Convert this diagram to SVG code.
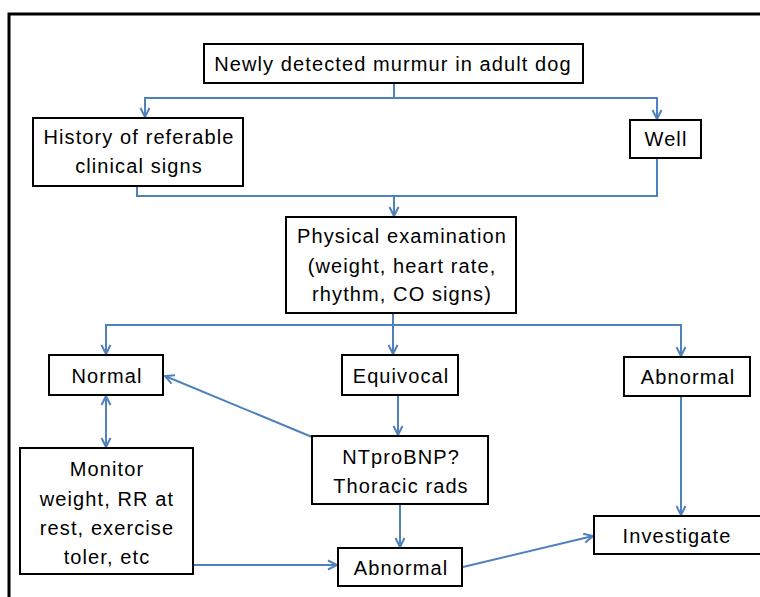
<svg xmlns="http://www.w3.org/2000/svg" width="760" height="597" viewBox="0 0 760 597">
  <style>
    .box { fill: #ffffff; stroke: #000000; stroke-width: 2; }
    .lbl { font-family: "Liberation Sans", Arial, sans-serif; font-size: 20px; letter-spacing: 1.1px; fill: #000000; text-anchor: middle; }
    .wire { fill: none; stroke: #4F81BD; stroke-width: 2; }
    .frame { stroke: #000000; stroke-width: 3; fill: none; }
  </style>
  <defs>
    <marker id="tip" viewBox="0 0 12 12" refX="11" refY="6" markerWidth="12" markerHeight="12" markerUnits="userSpaceOnUse" orient="auto-start-reverse">
      <path d="M2,1.5 L11,6 L2,10.5" fill="none" stroke="#4F81BD" stroke-width="2"/>
    </marker>
  </defs>
  <rect width="760" height="597" fill="#ffffff"/>
  <!-- frame: only top and left edges fall inside the canvas -->
  <path class="frame" d="M9,597 L9,14 L760,14"/>

  <g id="connectors">
    <!-- murmur to history / well -->
    <path class="wire" d="M394,83 L394,98"/>
    <path class="wire" d="M394,98 L145,98 L145,117" marker-end="url(#tip)"/>
    <path class="wire" d="M394,98 L657,98 L657,119" marker-end="url(#tip)"/>
    <!-- history / well merge into physical exam -->
    <path class="wire" d="M137,186 L137,196 L657,196 L657,158"/>
    <path class="wire" d="M394,196 L394,216" marker-end="url(#tip)"/>
    <!-- physical exam to the three outcomes -->
    <path class="wire" d="M393,313 L393,325"/>
    <path class="wire" d="M393,325 L106,325 L106,354" marker-end="url(#tip)"/>
    <path class="wire" d="M393,325 L393,354" marker-end="url(#tip)"/>
    <path class="wire" d="M393,325 L681,325 L681,356" marker-end="url(#tip)"/>
    <!-- equivocal to NTproBNP -->
    <path class="wire" d="M398,395 L398,435" marker-end="url(#tip)"/>
    <!-- NTproBNP back to normal -->
    <path class="wire" d="M312,437 L165,376" marker-end="url(#tip)"/>
    <!-- normal <-> monitor -->
    <path class="wire" d="M106,396 L106,447" marker-start="url(#tip)" marker-end="url(#tip)"/>
    <!-- monitor to abnormal -->
    <path class="wire" d="M193,565 L337,565" marker-end="url(#tip)"/>
    <!-- NTproBNP to abnormal -->
    <path class="wire" d="M400,504 L400,547" marker-end="url(#tip)"/>
    <!-- abnormal to investigate -->
    <path class="wire" d="M463,567 L593,536" marker-end="url(#tip)"/>
    <!-- right abnormal to investigate -->
    <path class="wire" d="M681,396 L681,515" marker-end="url(#tip)"/>
  </g>

  <g id="murmur">
    <rect class="box" x="204" y="44" width="379" height="39"/>
    <text class="lbl" x="393" y="71">Newly detected murmur in adult dog</text>
  </g>
  <g id="history">
    <rect class="box" x="33" y="118" width="210" height="68"/>
    <text class="lbl" x="139" y="144">History of referable</text>
    <text class="lbl" x="139" y="173">clinical signs</text>
  </g>
  <g id="well">
    <rect class="box" x="630" y="120" width="71" height="38"/>
    <text class="lbl" x="666" y="146">Well</text>
  </g>
  <g id="physical">
    <rect class="box" x="286" y="217" width="230" height="96"/>
    <text class="lbl" x="402" y="243">Physical examination</text>
    <text class="lbl" x="402" y="273">(weight, heart rate,</text>
    <text class="lbl" x="402" y="301">rhythm, CO signs)</text>
  </g>
  <g id="normal">
    <rect class="box" x="49" y="355" width="114" height="40"/>
    <text class="lbl" x="107" y="383">Normal</text>
  </g>
  <g id="equivocal">
    <rect class="box" x="342" y="355" width="116" height="40"/>
    <text class="lbl" x="401" y="383">Equivocal</text>
  </g>
  <g id="abnormal-right">
    <rect class="box" x="624" y="357" width="126" height="39"/>
    <text class="lbl" x="688" y="384">Abnormal</text>
  </g>
  <g id="ntprobnp">
    <rect class="box" x="312" y="436" width="176" height="68"/>
    <text class="lbl" x="401" y="464">NTproBNP?</text>
    <text class="lbl" x="401" y="493">Thoracic rads</text>
  </g>
  <g id="monitor">
    <rect class="box" x="20" y="448" width="173" height="126"/>
    <text class="lbl" x="107" y="476">Monitor</text>
    <text class="lbl" x="107" y="506">weight, RR at</text>
    <text class="lbl" x="107" y="535">rest, exercise</text>
    <text class="lbl" x="107" y="564">toler, etc</text>
  </g>
  <g id="abnormal-bottom">
    <rect class="box" x="338" y="548" width="124" height="38"/>
    <text class="lbl" x="401" y="575">Abnormal</text>
  </g>
  <g id="investigate">
    <rect class="box" x="594" y="516" width="176" height="38"/>
    <text class="lbl" x="677" y="543">Investigate</text>
  </g>
</svg>
